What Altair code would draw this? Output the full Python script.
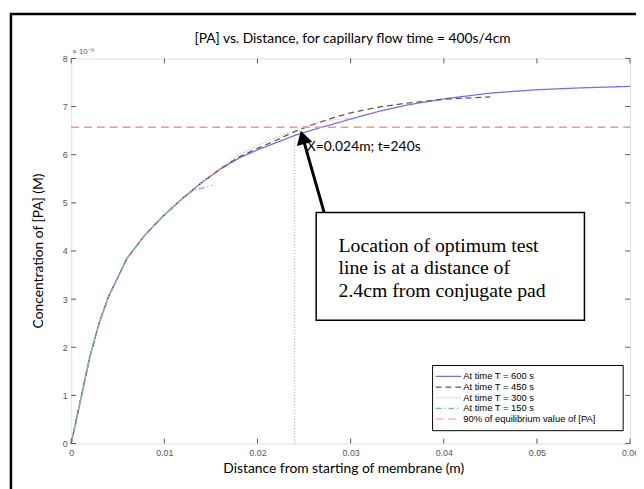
import altair as alt
import pandas as pd
import math

# ---- data (concentration in units of 1e-9 M) ----
x600 = [0, 0.001, 0.002, 0.003, 0.004, 0.006, 0.008, 0.010, 0.012, 0.014, 0.016, 0.018,
        0.020, 0.022, 0.024, 0.026, 0.028, 0.030, 0.033, 0.036, 0.040, 0.045, 0.050, 0.055, 0.060]
y600 = [0, 0.9, 1.8, 2.5, 3.05, 3.85, 4.35, 4.75, 5.1, 5.42, 5.7, 5.93,
        6.1, 6.25, 6.4, 6.52, 6.63, 6.74, 6.9, 7.03, 7.16, 7.28, 7.35, 7.39, 7.42]

x450 = [0, 0.001, 0.002, 0.003, 0.004, 0.006, 0.008, 0.010, 0.012, 0.014, 0.016, 0.018,
        0.020, 0.022, 0.024, 0.026, 0.028, 0.030, 0.033, 0.036, 0.040, 0.045]
y450 = [0, 0.9, 1.8, 2.5, 3.05, 3.85, 4.35, 4.75, 5.1, 5.42, 5.7, 5.95,
        6.13, 6.3, 6.48, 6.63, 6.76, 6.87, 6.99, 7.07, 7.15, 7.2]

x300 = [0, 0.001, 0.002, 0.003, 0.004, 0.006, 0.008, 0.010, 0.012, 0.014, 0.016, 0.018,
        0.020, 0.022, 0.024, 0.026, 0.028, 0.030]
y300 = [0, 0.9, 1.8, 2.5, 3.05, 3.85, 4.35, 4.75, 5.1, 5.42, 5.72, 6.0,
        6.19, 6.36, 6.51, 6.64, 6.72, 6.76]

x150 = [0, 0.001, 0.002, 0.003, 0.004, 0.006, 0.008, 0.010, 0.012, 0.013, 0.014, 0.0152]
y150 = [0, 0.9, 1.8, 2.5, 3.05, 3.85, 4.35, 4.75, 5.1, 5.24, 5.3, 5.37]

eq_x = [0, 0.06]
eq_y = [6.57, 6.57]

series = ["At time T = 600 s", "At time T = 450 s", "At time T = 300 s",
          "At time T = 150 s", "90% of equilibrium value of [PA]"]
colors = ["#7070ff", "#5a5a5a", "#ff9a9a", "#6fbf9a", "#ff8f8f"]
dashes = [[1, 0], [6, 4], [1, 2], [6, 3, 1, 3], [8, 5]]

x_ticks = [0, 0.01, 0.02, 0.03, 0.04, 0.05, 0.06]
y_ticks = [0, 1, 2, 3, 4, 5, 6, 7, 8]

opt_x = 0.024
opt_y = 6.45

box_x = [0.0263, 0.0551]
box_y = [4.8, 2.56]
box_lines = ["Location of optimum test", "line is at a distance of", "2.4cm from conjugate pad"]
box_line_y = [4.1, 3.64, 3.16]
box_text_x = 0.0287

arrow_tip = (0.02465, 6.5)
arrow_tail = (0.02715, 4.8)

W, H = 566, 390
XMAX, YMAX = 0.06, 8

rows = []
for s, xs_, ys_ in zip(series, [x600, x450, x300, x150, eq_x], [y600, y450, y300, y150, eq_y]):
    for i, (a, b) in enumerate(zip(xs_, ys_)):
        rows.append({"series": s, "x": a, "y": b, "i": i})
df = pd.DataFrame(rows)

xs = alt.Scale(domain=[0, XMAX], nice=False, zero=False)
ys = alt.Scale(domain=[0, YMAX], nice=False, zero=False)
cscale = alt.Scale(domain=series, range=colors)
dscale = alt.Scale(domain=series, range=dashes)

lines = alt.Chart(df).mark_line(strokeWidth=1.3).encode(
    x=alt.X("x:Q", scale=xs, axis=alt.Axis(values=x_ticks, title=None, domain=False, ticks=False,
            grid=False, labelFont="Liberation Sans", labelFontSize=9, labelColor="#555",
            labelPadding=5, labelFlush=False, labelOverlap=False,
            labelExpr="datum.value == 0 ? '0' : format(datum.value, '.2f')")),
    y=alt.Y("y:Q", scale=ys, axis=alt.Axis(values=y_ticks, title=None, domain=False, ticks=False,
            grid=False, labelFont="Liberation Sans", labelFontSize=9, labelColor="#555",
            labelPadding=4, labelFlush=False, labelOverlap=False)),
    color=alt.Color("series:N", scale=cscale, legend=None),
    strokeDash=alt.StrokeDash("series:N", scale=dscale, legend=None),
    order="i:Q",
)

# inward tick marks
tx = pd.DataFrame({"x": x_ticks})
ty = pd.DataFrame({"y": y_ticks})
tick_col = "#555"
tb = alt.Chart(tx).mark_rule(color=tick_col).encode(x=alt.X("x:Q", scale=xs), y=alt.value(H), y2=alt.value(H - 5))
tt = alt.Chart(tx).mark_rule(color=tick_col).encode(x=alt.X("x:Q", scale=xs), y=alt.value(0), y2=alt.value(5))
tl = alt.Chart(ty).mark_rule(color=tick_col).encode(y=alt.Y("y:Q", scale=ys), x=alt.value(0), x2=alt.value(5))
tr = alt.Chart(ty).mark_rule(color=tick_col).encode(y=alt.Y("y:Q", scale=ys), x=alt.value(W), x2=alt.value(W - 5))

# vertical dotted line at optimum
vdf = pd.DataFrame({"x": [opt_x], "y": [0], "y2": [opt_y]})
vline = alt.Chart(vdf).mark_rule(color="#999", strokeDash=[1, 2], strokeWidth=1).encode(
    x=alt.X("x:Q", scale=xs), y=alt.Y("y:Q", scale=ys), y2="y2:Q")

# manual legend (box + sample lines + labels), laid out in pixels
LG_L, LG_R, LG_T, LG_B = W - 200, W - 7, 311, 377
row_y = [LG_T + 11 + k * 10.8 for k in range(len(series))]
lg_df = pd.DataFrame({"series": series, "ly": row_y,
                      "lx1": [LG_L + 3] * len(series), "lx2": [LG_L + 29] * len(series),
                      "tx": [LG_L + 31] * len(series)})
lg_box = alt.Chart(pd.DataFrame({"a": [0]})).mark_rect(fill="white", stroke="black", strokeWidth=1).encode(
    x=alt.value(LG_L), x2=alt.value(LG_R), y=alt.value(LG_T), y2=alt.value(LG_B))
lg_lines = alt.Chart(lg_df).mark_rule(strokeWidth=1.2).encode(
    x=alt.X("lx1:Q", scale=None), x2="lx2:Q", y=alt.Y("ly:Q", scale=None),
    color=alt.Color("series:N", scale=cscale, legend=None),
    strokeDash=alt.StrokeDash("series:N", scale=dscale, legend=None))
lg_text = alt.Chart(lg_df).mark_text(align="left", baseline="middle", font="Liberation Sans",
                                     fontSize=9.5, color="black").encode(
    x=alt.X("tx:Q", scale=None), y=alt.Y("ly:Q", scale=None), text="series:N")

# annotation box
bdf = pd.DataFrame({"x": [box_x[0]], "x2": [box_x[1]], "y": [box_y[0]], "y2": [box_y[1]]})
box = alt.Chart(bdf).mark_rect(fill="white", stroke="black", strokeWidth=1.5).encode(
    x=alt.X("x:Q", scale=xs), x2="x2:Q", y=alt.Y("y:Q", scale=ys), y2="y2:Q")
tdf = pd.DataFrame({"x": [box_text_x] * 3, "y": box_line_y, "t": box_lines})
btext = alt.Chart(tdf).mark_text(align="left", baseline="middle", font="Liberation Serif",
                                 fontSize=20, color="black").encode(
    x=alt.X("x:Q", scale=xs), y=alt.Y("y:Q", scale=ys), text="t:N")

# arrow
px = W / XMAX
py = H / YMAX
dxp = (arrow_tail[0] - arrow_tip[0]) * px
dyp = -(arrow_tail[1] - arrow_tip[1]) * py
L = math.hypot(dxp, dyp)
ux, uy = dxp / L, dyp / L
back = 7
head = (arrow_tip[0] + ux * back / px, arrow_tip[1] - uy * back / py)
shaft_end = (arrow_tip[0] + ux * 10 / px, arrow_tip[1] - uy * 10 / py)
ang = math.degrees(math.atan2(-ux, uy)) % 360
adf = pd.DataFrame({"x": [arrow_tail[0]], "y": [arrow_tail[1]], "x2": [shaft_end[0]], "y2": [shaft_end[1]]})
shaft = alt.Chart(adf).mark_rule(color="black", strokeWidth=3).encode(
    x=alt.X("x:Q", scale=xs), y=alt.Y("y:Q", scale=ys), x2="x2:Q", y2="y2:Q")
hdf = pd.DataFrame({"x": [head[0]], "y": [head[1]]})
ahead = alt.Chart(hdf).mark_point(shape="triangle-up", filled=True, color="black", size=260,
                                  opacity=1, angle=ang).encode(
    x=alt.X("x:Q", scale=xs), y=alt.Y("y:Q", scale=ys))

# point label
ldf = pd.DataFrame({"x": [opt_x + 0.0013], "y": [opt_y - 0.29], "t": ["X=0.024m; t=240s"]})
plabel = alt.Chart(ldf).mark_text(align="left", baseline="middle", font="Lato", fontSize=14,
                                  color="black").encode(
    x=alt.X("x:Q", scale=xs), y=alt.Y("y:Q", scale=ys), text="t:N")

# titles and frame
title = alt.Chart(pd.DataFrame({"t": ["[PA] vs. Distance, for capillary flow time = 400s/4cm"]})).mark_text(
    font="Lato", fontSize=14, color="black", baseline="middle").encode(
    x=alt.value(W / 2 + 2), y=alt.value(-20), text="t:N")
xtitle = alt.Chart(pd.DataFrame({"t": ["Distance from starting of membrane (m)"]})).mark_text(
    font="Lato", fontSize=14, color="black", baseline="middle").encode(
    x=alt.value(W / 2 - 7), y=alt.value(H + 26), text="t:N")
ytitle = alt.Chart(pd.DataFrame({"t": ["Concentration of [PA] (M)"]})).mark_text(
    font="Lato", fontSize=14, color="black", baseline="middle", angle=270).encode(
    x=alt.value(-33), y=alt.value(H / 2), text="t:N")
expo = alt.Chart(pd.DataFrame({"t": ["× 10⁻⁹"]})).mark_text(
    font="Liberation Sans", fontSize=8, color="#555", align="left", baseline="bottom").encode(
    x=alt.value(1), y=alt.value(-2), text="t:N")
frame = alt.Chart(pd.DataFrame({"a": [0]})).mark_rect(fill=None, stroke="black", strokeWidth=2.5).encode(
    x=alt.value(-61), x2=alt.value(700), y=alt.value(-45), y2=alt.value(520))

chart = alt.layer(
    frame, vline, lines, tb, tt, tl, tr, lg_box, lg_lines, lg_text, box, btext, shaft, ahead,
    plabel, title, xtitle, ytitle, expo
).properties(
    width=W, height=H,
    autosize=alt.AutoSizeParams(type="none"),
    padding={"left": 64, "top": 48, "right": 6, "bottom": 43},
).configure_view(stroke="#555", strokeWidth=1).configure(background="white")

chart.save("out.html", embed_options={"renderer": "svg", "actions": False})
